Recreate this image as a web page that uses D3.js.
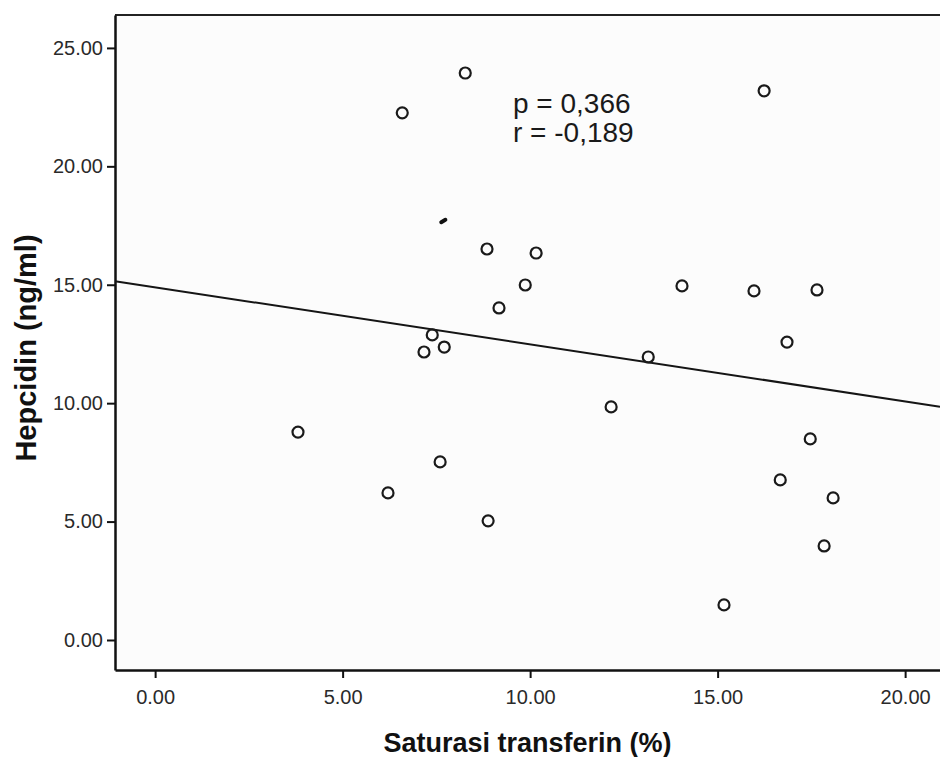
<!DOCTYPE html>
<html lang="en">
<head>
<meta charset="utf-8">
<title>Hepcidin vs Saturasi transferin</title>
<script src="https://cdn.jsdelivr.net/npm/d3@7/dist/d3.min.js"></script>
<style>
  html, body { margin: 0; padding: 0; background: #fff; }
  svg { display: block; }
</style>
</head>
<body>
<script>
// data
var satTransferin = [8.27, 6.59, 16.24, 8.85, 10.16, 9.87, 9.17, 14.05, 15.97, 17.65,
                     7.39, 7.71, 7.17, 13.15, 16.85, 12.16, 3.81, 7.60, 6.21, 8.88,
                     17.47, 16.67, 18.08, 17.84, 15.17];
var hepcidin = [23.94, 22.26, 23.19, 16.51, 16.34, 14.99, 14.02, 14.95, 14.74, 14.78,
                12.88, 12.37, 12.16, 11.95, 12.58, 9.84, 8.78, 7.52, 6.21, 5.03,
                8.49, 6.76, 6.00, 3.97, 1.48];
var fitX = [-1.07, 20.93];
var fitY = [15.15, 9.85];
var xTicks = [0, 5, 10, 15, 20];
var yTicks = [0, 5, 10, 15, 20, 25];
var statLines = ["p = 0,366", "r = -0,189"];
var strayMark = [[7.63, 17.64], [7.74, 17.74]];

var w = 940, h = 757;
var mLeft = 115, mRight = 940, mTop = 15, mBottom = 670;

var svg = d3.select("body").append("svg")
    .attr("width", w)
    .attr("height", h);

var xScale = d3.scaleLinear().domain([-1.07, 20.93]).range([mLeft, mRight]);
var yScale = d3.scaleLinear().domain([-1.267, 26.39]).range([mBottom, mTop]);

// plot background
svg.append("rect")
    .attr("x", mLeft).attr("y", mTop)
    .attr("width", mRight - mLeft).attr("height", mBottom - mTop)
    .attr("fill", "#fcfcfc");

// frame top
svg.append("line").attr("x1", mLeft).attr("x2", mRight).attr("y1", mTop).attr("y2", mTop)
    .attr("stroke", "#222").attr("stroke-width", 2);

// axes
var xAxis = d3.axisBottom(xScale).tickValues(xTicks).tickFormat(d3.format(".2f"))
    .tickSizeInner(8).tickSizeOuter(0).tickPadding(12);
var yAxis = d3.axisLeft(yScale).tickValues(yTicks).tickFormat(d3.format(".2f"))
    .tickSizeInner(8).tickSizeOuter(0).tickPadding(4);

var gx = svg.append("g")
    .attr("transform", "translate(0," + mBottom + ")")
    .call(xAxis);
var gy = svg.append("g")
    .attr("transform", "translate(" + mLeft + ",0)")
    .call(yAxis);

[gx, gy].forEach(function(g) {
  g.select(".domain").attr("stroke", "#111").attr("stroke-width", 2.5);
  g.selectAll(".tick line").attr("stroke", "#111").attr("stroke-width", 2);
  g.selectAll(".tick text")
    .attr("fill", "#2a2a2a")
    .attr("font-family", "Liberation Sans, Arial, sans-serif")
    .attr("font-size", "20px");
});

// fit line
svg.append("line")
    .attr("x1", xScale(fitX[0])).attr("y1", yScale(fitY[0]))
    .attr("x2", xScale(fitX[1])).attr("y2", yScale(fitY[1]))
    .attr("stroke", "#151515").attr("stroke-width", 2);

// points
svg.selectAll("circle.pt")
    .data(d3.range(satTransferin.length))
    .enter()
    .append("circle")
    .attr("class", "pt")
    .attr("cx", function(i) { return xScale(satTransferin[i]); })
    .attr("cy", function(i) { return yScale(hepcidin[i]); })
    .attr("r", 5.5)
    .attr("fill", "none")
    .attr("stroke", "#1a1a1a")
    .attr("stroke-width", 2.2);

// small stray mark
svg.append("line")
    .attr("x1", xScale(strayMark[0][0])).attr("y1", yScale(strayMark[0][1]))
    .attr("x2", xScale(strayMark[1][0])).attr("y2", yScale(strayMark[1][1]))
    .attr("stroke", "#111").attr("stroke-width", 4).attr("stroke-linecap", "round");

// stats text
svg.selectAll("text.stat")
    .data(statLines)
    .enter()
    .append("text")
    .attr("class", "stat")
    .attr("x", 513)
    .attr("y", function(d, i) { return 113 + i * 29; })
    .attr("font-family", "Liberation Sans, Arial, sans-serif")
    .attr("font-size", "28px")
    .attr("fill", "#1a1a1a")
    .text(function(d) { return d; });

// axis titles
svg.append("text")
    .attr("x", (mLeft + mRight) / 2)
    .attr("y", 752)
    .attr("text-anchor", "middle")
    .attr("font-family", "Liberation Sans, Arial, sans-serif")
    .attr("font-weight", "bold")
    .attr("font-size", "27px")
    .attr("fill", "#111")
    .text("Saturasi transferin (%)");

svg.append("text")
    .attr("transform", "translate(36," + 348 + ") rotate(-90)")
    .attr("text-anchor", "middle")
    .attr("font-family", "Liberation Sans, Arial, sans-serif")
    .attr("font-weight", "bold")
    .attr("font-size", "29px")
    .attr("fill", "#111")
    .text("Hepcidin (ng/ml)");
</script>
</body>
</html>
